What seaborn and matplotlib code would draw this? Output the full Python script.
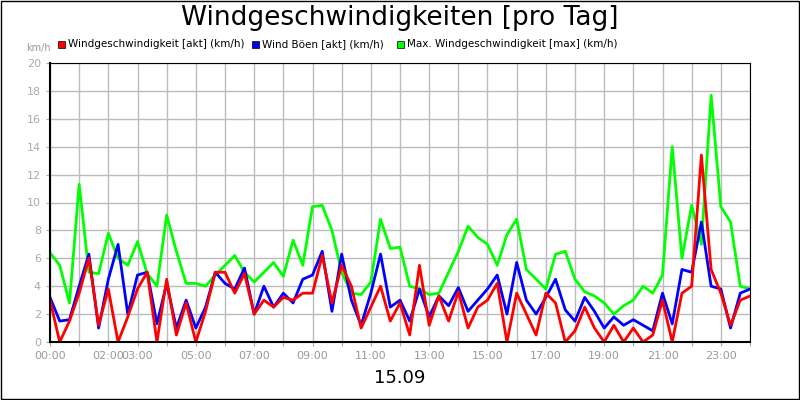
import numpy as np
import pandas as pd
import matplotlib
matplotlib.use("Agg")
import matplotlib.pyplot as plt
import seaborn as sns

hours = [i / 3 for i in range(73)]
max_wind = [6.4, 5.5, 2.8, 11.3, 5.0, 4.9, 7.8, 6.0, 5.5, 7.2, 4.9, 4.0,
            9.1, 6.5, 4.2, 4.2, 4.0, 4.8, 5.5, 6.2, 5.0, 4.3, 5.0, 5.7,
            4.7, 7.3, 5.5, 9.7, 9.8, 8.0, 5.0, 3.5, 3.4, 4.3, 8.8, 6.7,
            6.8, 4.0, 3.8, 3.4, 3.5, 5.0, 6.5, 8.3, 7.5, 7.0, 5.5, 7.7,
            8.8, 5.2, 4.5, 3.8, 6.3, 6.5, 4.5, 3.6, 3.3, 2.8, 2.0, 2.6,
            3.0, 4.0, 3.5, 4.8, 14.0, 6.0, 9.8, 7.0, 17.7, 9.7, 8.6, 4.0,
            3.8]
gusts = [3.2, 1.5, 1.6, 4.0, 6.3, 1.0, 4.5, 7.0, 2.0, 4.8, 5.0, 1.3,
         4.2, 1.0, 3.0, 1.0, 2.5, 5.0, 4.2, 3.8, 5.3, 2.0, 4.0, 2.5,
         3.5, 2.8, 4.5, 4.8, 6.5, 2.2, 6.3, 3.0, 1.2, 3.5, 6.3, 2.5,
         3.0, 1.5, 3.8, 1.8, 3.3, 2.6, 3.9, 2.2, 3.0, 3.8, 4.8, 2.0,
         5.7, 3.0, 2.0, 3.2, 4.5, 2.3, 1.5, 3.2, 2.2, 1.0, 1.8, 1.2,
         1.6, 1.2, 0.8, 3.5, 1.3, 5.2, 5.0, 8.6, 4.0, 3.8, 1.0, 3.5,
         3.8]
actual = [3.0, 0.0, 1.5, 3.5, 6.0, 1.2, 3.8, 0.0, 1.8, 3.8, 5.0, 0.0,
          4.5, 0.5, 2.8, 0.0, 2.2, 5.0, 5.0, 3.5, 4.9, 2.0, 3.0, 2.5,
          3.2, 3.0, 3.5, 3.5, 6.2, 2.8, 5.5, 4.0, 1.0, 2.5, 4.0, 1.5,
          2.8, 0.5, 5.5, 1.2, 3.3, 1.5, 3.6, 1.0, 2.5, 3.0, 4.2, 0.0,
          3.5, 2.0, 0.5, 3.5, 2.8, 0.0, 0.8, 2.5, 1.0, 0.0, 1.2, 0.0,
          1.0, 0.0, 0.5, 3.0, 0.0, 3.5, 4.0, 13.4, 5.2, 3.5, 1.2, 3.0,
          3.3]
names = ["Windgeschwindigkeit [akt] (km/h)", "Wind Böen [akt] (km/h)",
         "Max. Windgeschwindigkeit [max] (km/h)"]
tick_labels = ["00:00", "02:00", "03:00", "05:00", "07:00", "09:00", "11:00",
               "13:00", "15:00", "17:00", "19:00", "21:00", "23:00"]
tick_pos = [0, 2, 3, 5, 7, 9, 11, 13, 15, 17, 19, 21, 23]

df = pd.DataFrame({"h": hours, names[0]: actual, names[1]: gusts, names[2]: max_wind})
long = df.melt(id_vars="h", var_name="s", value_name="v")

fig = plt.figure(figsize=(8, 4), dpi=100)
fig.patch.set_facecolor("white")
fig.patches.append(plt.Rectangle((0.001, 0.002), 0.998, 0.996, transform=fig.transFigure,
                                 fill=False, edgecolor="black", lw=1))
ax = fig.add_axes([50/800, 58/400, 700/800, 279/400])
sns.lineplot(data=long, x="h", y="v", hue="s", hue_order=[names[2], names[1], names[0]],
             palette=["#00ff00", "#0000ff", "#ff0000"], lw=2, ax=ax, legend=False)
ax.set_xlim(0, 24)
ax.set_ylim(0, 20)
ax.set_xticks(range(25))
ax.set_xticklabels([tick_labels[tick_pos.index(i)] if i in tick_pos else "" for i in range(25)])
ax.set_yticks(range(0, 21, 2))
ax.grid(True, color="#bbbbbb", lw=1)
ax.set_axisbelow(True)
ax.tick_params(colors="#aaaaaa", labelsize=8, length=3)
ax.tick_params(axis="x", labelcolor="#999999")
ax.set_xlabel("")
ax.set_ylabel("")
for s in ["top", "right"]:
    ax.spines[s].set_color("black")
ax.spines["left"].set_linewidth(1.5)
ax.spines["bottom"].set_linewidth(1.5)
fig.text(0.5, 0.955, "Windgeschwindigkeiten [pro Tag]", ha="center", va="center", fontsize=19)
fig.text(26/800, 1 - 48/400, "km/h", fontsize=7, color="#999999", va="center")
fig.text(0.5, 1 - 378/400, "15.09", ha="center", va="center", fontsize=13)
cols = ["#ff0000", "#0000ff", "#00ff00"]
xs = [58, 252, 397]
for x, c, n in zip(xs, cols, names):
    fig.patches.append(plt.Rectangle((x/800, 1 - 48/400), 7/800, 7/400,
                                     transform=fig.transFigure, facecolor=c, edgecolor="black", lw=0.5))
    fig.text((x + 10)/800, 1 - 44/400, n, fontsize=7.5, va="center")
fig.savefig("out.png", dpi=100)
